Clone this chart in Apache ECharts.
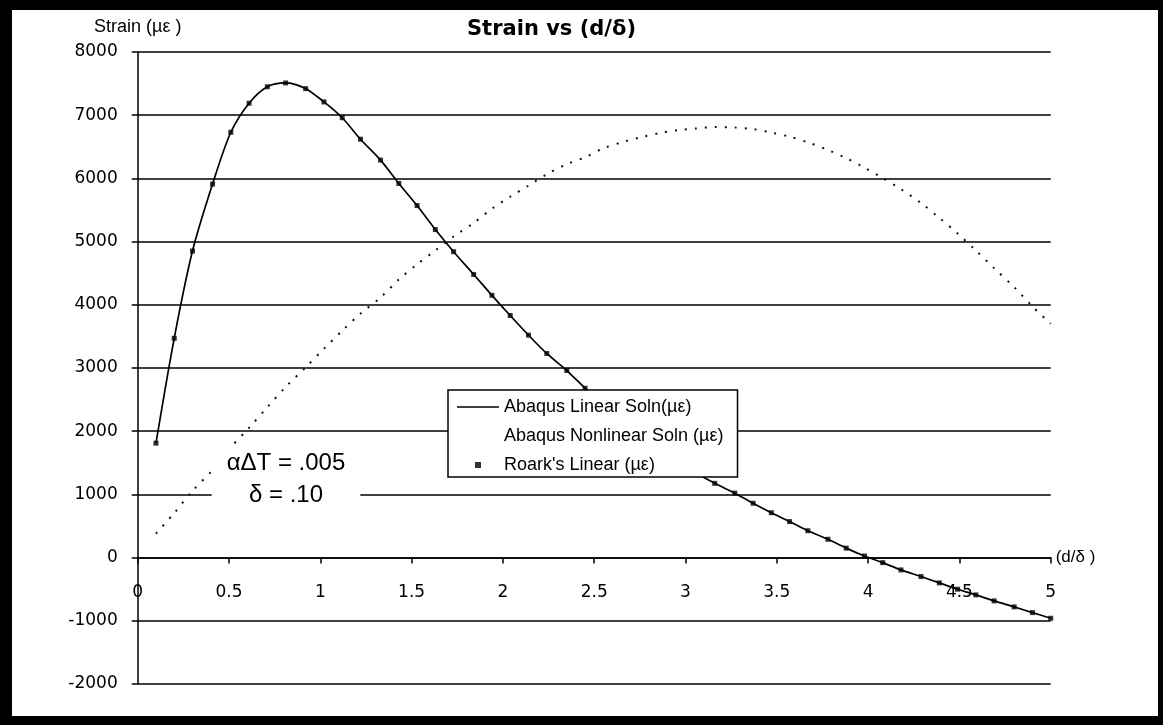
<!DOCTYPE html>
<html lang="en">
<head>
<meta charset="UTF-8">
<title>Strain vs (d/δ)</title>
<style>
  html, body { margin: 0; padding: 0; background: #000; }
  #main { position: absolute; left: 12px; top: 10px; width: 1146px; height: 706px; background: #fff; }
</style>
</head>
<body>
<div id="main"></div>
<script src="https://cdn.jsdelivr.net/npm/echarts@6/dist/echarts.min.js"></script>
<script>
// d/delta positions of the computed points
var dOverDelta = [0.10, 0.20, 0.30, 0.41, 0.51, 0.61, 0.71, 0.81, 0.92, 1.02,
                  1.12, 1.22, 1.33, 1.43, 1.53, 1.63, 1.73, 1.84, 1.94, 2.04,
                  2.14, 2.24, 2.35, 2.45, 2.55, 2.65, 2.75, 2.86, 2.96, 3.06,
                  3.16, 3.27, 3.37, 3.47, 3.57, 3.67, 3.78, 3.88, 3.98, 4.08,
                  4.18, 4.29, 4.39, 4.49, 4.59, 4.69, 4.80, 4.90, 5.00];

// Roark's linear strain (the Abaqus linear curve runs through the same points)
var roarkLinear = [1810, 3470, 4850, 5910, 6730, 7190, 7450, 7510, 7420, 7210,
                   6960, 6620, 6290, 5920, 5570, 5190, 4840, 4480, 4150, 3830,
                   3520, 3230, 2960, 2680, 2415, 2170, 1940, 1725, 1525, 1340,
                   1175, 1020, 860, 710, 570, 425, 290, 150, 25, -80,
                   -195, -300, -400, -500, -590, -685, -780, -870, -960];
var abaqusLinear = roarkLinear;

var abaqusNonlinear = [380, 705, 1055, 1385, 1745, 2055, 2380, 2700, 3010, 3305,
                       3590, 3860, 4115, 4400, 4640, 4860, 5080, 5295, 5520, 5710,
                       5885, 6065, 6225, 6335, 6475, 6570, 6648, 6718, 6765, 6790,
                       6812, 6805, 6780, 6725, 6660, 6570, 6450, 6320, 6170, 6005,
                       5830, 5610, 5375, 5130, 4860, 4580, 4280, 3975, 3700];

var seriesNames = ['Abaqus Linear Soln(µε)', 'Abaqus Nonlinear Soln (µε)', "Roark's Linear (µε)"];

function pairs(ys) {
    return ys.map(function (y, i) { return [dOverDelta[i], y]; });
}

var myChart = echarts.init(document.getElementById('main'));
var option = {
    animation: false,
    backgroundColor: '#fff',
    title: {
        text: 'Strain vs (d/δ)',
        left: 455,
        top: 9,
        padding: 0,
        textStyle: { fontFamily: 'DejaVu Sans', fontSize: 21, fontWeight: 'bold', color: '#000' }
    },
    grid: { left: 125.7, right: 107.3, top: 42, bottom: 32, outerBoundsMode: 'none' },
    legend: {
        orient: 'vertical',
        left: 436,
        top: 380,
        padding: [8, 14, 3, 8],
        itemWidth: 42,
        itemHeight: 14,
        itemGap: 11,
        backgroundColor: '#fff',
        borderColor: '#000',
        borderWidth: 1.5,
        borderRadius: 0,
        textStyle: { fontFamily: 'Liberation Sans', fontSize: 18, lineHeight: 18, color: '#000' },
        data: [
            { name: seriesNames[0], icon: 'path://M0,0M42,14M0,6.3h42v1.5h-42z' },
            { name: seriesNames[1], itemStyle: { opacity: 0 }, lineStyle: { opacity: 0 } },
            { name: seriesNames[2], icon: 'path://M0,0M42,14M18,4h6v6h-6z' }
        ]
    },
    xAxis: {
        type: 'value',
        min: 0,
        max: 5,
        interval: 0.5,
        name: '(d/δ )',
        nameLocation: 'end',
        nameGap: 5,
        nameTextStyle: { fontFamily: 'Liberation Sans', fontSize: 17, color: '#000' },
        axisLine: { onZero: true, lineStyle: { color: '#000', width: 1.5 } },
        axisTick: { show: true, length: 6, lineStyle: { color: '#000', width: 1.5 } },
        axisLabel: { margin: -100, fontFamily: 'DejaVu Sans', fontSize: 17, color: '#000',
                     showMinLabel: true, showMaxLabel: true },
        splitLine: { show: false }
    },
    yAxis: {
        type: 'value',
        min: -2000,
        max: 8000,
        interval: 1000,
        name: 'Strain (µε )',
        nameLocation: 'end',
        nameGap: 16,
        nameTextStyle: { fontFamily: 'Liberation Sans', fontSize: 18, color: '#000' },
        axisLine: { show: true, lineStyle: { color: '#000', width: 1.5 } },
        axisTick: { show: true, length: 6, lineStyle: { color: '#000', width: 1.5 } },
        axisLabel: { margin: 20, fontFamily: 'DejaVu Sans', fontSize: 17, color: '#000',
                     formatter: function (v) { return String(v); } },
        splitLine: { show: true, lineStyle: { color: '#000', width: 1.5 } }
    },
    graphic: [
        {
            type: 'text',
            x: 274,
            y: 437,
            z: 100,
            style: {
                text: 'αΔT = .005\nδ = .10',
                align: 'center',
                verticalAlign: 'top',
                lineHeight: 32,
                padding: [0, 15],
                backgroundColor: '#fff',
                fill: '#000',
                font: '24px "Liberation Sans"'
            }
        }
    ],
    series: [
        {
            name: seriesNames[0],
            type: 'line',
            data: pairs(abaqusLinear),
            smooth: 0.3,
            symbol: 'none',
            lineStyle: { color: '#000', width: 1.7 },
            itemStyle: { color: '#000' },
            z: 2
        },
        {
            name: seriesNames[1],
            type: 'line',
            data: pairs(abaqusNonlinear),
            smooth: 0.3,
            symbol: 'none',
            lineStyle: { color: '#111', width: 2, type: [2, 8] },
            itemStyle: { color: '#111' },
            z: 2
        },
        {
            name: seriesNames[2],
            type: 'scatter',
            data: pairs(roarkLinear),
            symbol: 'rect',
            symbolSize: 5,
            itemStyle: { color: '#000' },
            z: 3
        }
    ]
};
myChart.setOption(option);
</script>
</body>
</html>
